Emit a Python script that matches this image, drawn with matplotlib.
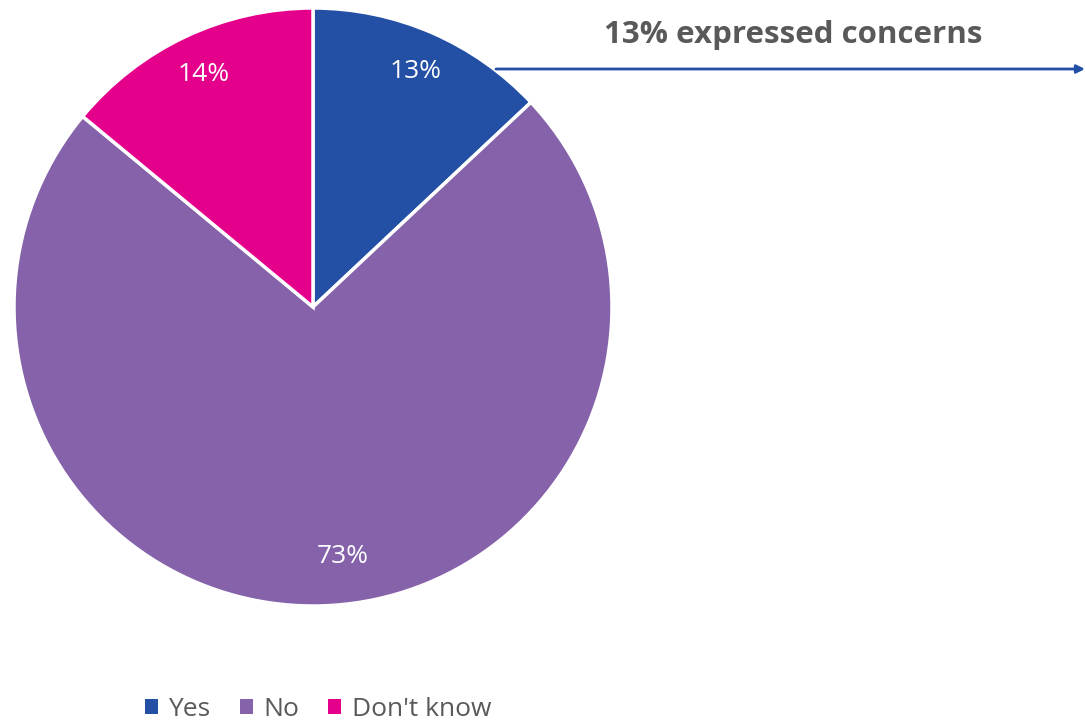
import matplotlib
matplotlib.use("Agg")
import matplotlib.pyplot as plt
from matplotlib.patches import Patch

plt.rcParams["font.family"] = ["Open Sans", "DejaVu Sans"]

categories = ["Yes", "No", "Don't know"]
shares = [13, 73, 14]
colors = ["#2350A5", "#8562AA", "#E5008C"]
callout = "13% expressed concerns"

W, H = 1085, 721
fig = plt.figure(figsize=(W / 100, H / 100), dpi=100)
ax = fig.add_axes([0, 0, 1, 1])

wedges, _, autotexts = ax.pie(
    shares,
    colors=colors,
    startangle=90,
    counterclock=False,
    center=(313, 414),
    radius=299,
    autopct="%1.0f%%",
    pctdistance=0.86,
    wedgeprops=dict(edgecolor="white", linewidth=2.5),
    textprops=dict(color="white", fontsize=19),
    frame=True,
)
ax.set_xlim(0, W)
ax.set_ylim(0, H)
ax.set_aspect("equal")
ax.axis("off")

# nudge the big slice label toward where it sits in the original layout
x, y = autotexts[1].get_position()
autotexts[1].set_position((x + 22, y + 8))

ax.annotate(
    "", xy=(1085, 652), xytext=(496, 652),
    arrowprops=dict(arrowstyle="-|>", color="#2350A5", lw=2, mutation_scale=12,
                    shrinkA=0, shrinkB=0),
)
ax.text(793, 686, callout, ha="center", va="center", fontsize=22.5,
        fontweight="bold", color="#595959")

handles = [Patch(facecolor=c, label=l) for c, l in zip(colors, categories)]
fig.legend(handles=handles, loc="center", bbox_to_anchor=(318 / W, 1 - 709 / H),
           ncol=3, frameon=False, fontsize=19, handlelength=0.5, handleheight=0.5,
           handletextpad=0.4, columnspacing=1.1, labelcolor="#595959")

fig.savefig("out.png", dpi=100)
